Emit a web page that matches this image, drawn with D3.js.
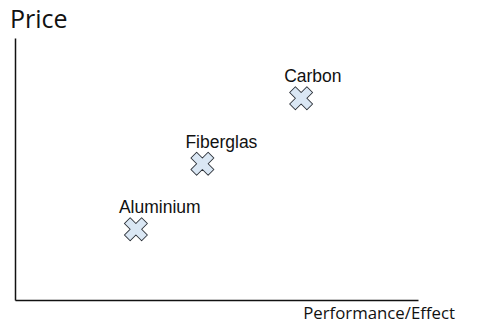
<!DOCTYPE html>
<html>
<head>
<meta charset="utf-8">
<script src="https://cdn.jsdelivr.net/npm/d3@7"></script>
<style>
  body { margin: 0; background: #fff; }
  svg { display: block; }
</style>
</head>
<body>
<div id="chart"></div>
<script>
// data
const materials = ['Aluminium', 'Fiberglas', 'Carbon'];
const performance = [3.0, 4.65, 7.1];
const price = [2.7, 5.2, 7.7];

const width = 485;
const height = 326;

// axis extents
const x0 = 15;
const x1 = 418;
const yTop = 38;
const yBottom = 300;

const scaleX = d3.scaleLinear().domain([0, 10]).range([x0, x1]);
const scaleY = d3.scaleLinear().domain([0, 10]).range([yBottom, yTop]);

const $svg = d3.select('#chart').append('svg')
    .attr('width', width)
    .attr('height', height);

// axes (no ticks, just the lines)
const $axes = $svg.append('g').attr('class', 'g-axis');
$axes.append('g')
    .attr('transform', `translate(0, ${yBottom})`)
    .call(d3.axisBottom(scaleX).tickValues([]).tickSizeOuter(0))
    .select('.domain').attr('stroke', '#111').attr('stroke-width', 1.5);
$axes.append('g')
    .attr('transform', `translate(${x0}, 0)`)
    .call(d3.axisLeft(scaleY).tickValues([]).tickSizeOuter(0))
    .select('.domain').attr('stroke', '#111').attr('stroke-width', 1.5);

// axis titles
$svg.append('text')
    .attr('x', 10)
    .attr('y', 28)
    .attr('font-family', '"Open Sans", sans-serif')
    .attr('font-size', 25)
    .attr('fill', '#111')
    .text('Price');

$svg.append('text')
    .attr('x', 455)
    .attr('y', 319)
    .attr('text-anchor', 'end')
    .attr('font-family', '"Open Sans", sans-serif')
    .attr('font-size', 16.8)
    .attr('fill', '#111')
    .text('Performance/Effect');

// points
const cross = d3.symbol().type(d3.symbolCross).size(330);
const $vis = $svg.append('g').attr('class', 'g-vis');
const $pt = $vis.selectAll('g.pt')
    .data(materials)
    .join('g')
    .attr('class', 'pt')
    .attr('transform', (d, i) => `translate(${scaleX(performance[i])}, ${scaleY(price[i])})`);

$pt.append('path')
    .attr('d', cross)
    .attr('transform', 'rotate(45)')
    .attr('fill', '#dae7f4')
    .attr('stroke', '#2a2f36')
    .attr('stroke-width', 1)
    .attr('stroke-linejoin', 'round');

$pt.append('text')
    .attr('x', -17)
    .attr('y', -16)
    .attr('font-family', '"Liberation Sans", Arial, sans-serif')
    .attr('font-size', 17.5)
    .attr('fill', '#111')
    .text(d => d);
</script>
</body>
</html>
